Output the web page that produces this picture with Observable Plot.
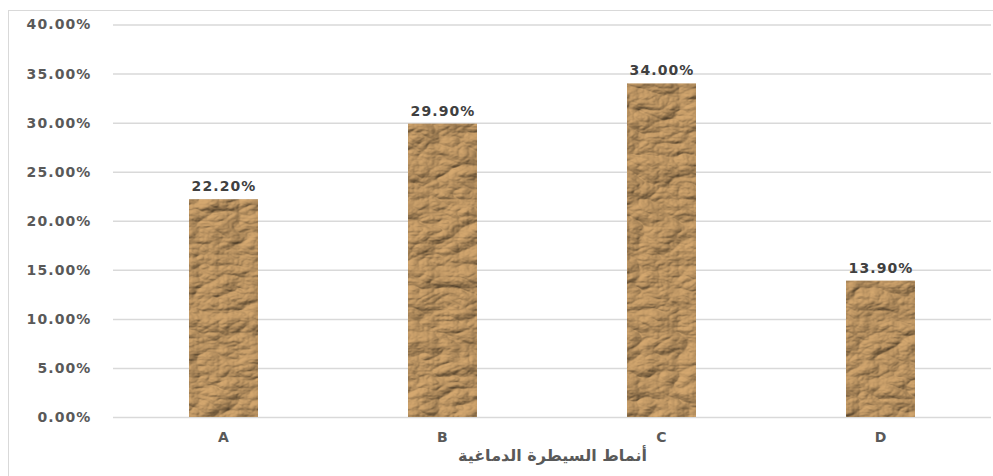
<!DOCTYPE html>
<html>
<head>
<meta charset="utf-8">
<script src="https://cdn.jsdelivr.net/npm/d3@7"></script>
<script src="https://cdn.jsdelivr.net/npm/@observablehq/plot@0.6"></script>
<style>
  html, body { margin: 0; padding: 0; background: #fff; }
  #chart { position: relative; width: 993px; height: 476px; overflow: hidden; }
</style>
</head>
<body>
<div id="chart"></div>
<script>
const categories = ["A", "B", "C", "D"];
const values = [0.222, 0.299, 0.340, 0.139];
const yTicks = [0, 0.05, 0.10, 0.15, 0.20, 0.25, 0.30, 0.35, 0.40];
const axisTitle = "أنماط السيطرة الدماغية";

const data = categories.map((c, i) => ({ cat: c, v: values[i] }));
const fmt = d3.format(".2%");
const font = "DejaVu Sans, Verdana, sans-serif";

const plot = Plot.plot({
  width: 993,
  height: 476,
  marginLeft: 113,
  marginRight: 2,
  marginTop: 24.5,
  marginBottom: 59,
  style: { fontFamily: font, background: "transparent", overflow: "visible" },
  x: { domain: categories, paddingInner: 0.685, paddingOuter: 0.3425, label: null },
  y: { domain: [0, 0.40], label: null },
  marks: [
    Plot.ruleY(yTicks, { stroke: "#d9d9d9", strokeWidth: 1.5 }),
    Plot.barY(data, { x: "cat", y: "v", fill: "#b38d5f" }),
    Plot.text(data, {
      x: "cat", y: "v", text: d => fmt(d.v),
      dy: -13, fill: "#404040", fontSize: 14, fontWeight: "bold"
    }),
    Plot.axisY({
      ticks: yTicks, tickFormat: fmt, tickSize: 0, tickPadding: 22,
      fontSize: 14, fontWeight: "bold", fill: "#595959", label: null
    }),
    Plot.axisX({
      tickSize: 0, tickPadding: 15, fontSize: 14, fontWeight: "bold",
      fill: "#595959", label: null
    }),
    Plot.text([axisTitle], {
      frameAnchor: "bottom", dy: 43, fontSize: 16, fontWeight: "bold",
      fill: "#595959", text: d => d
    })
  ]
});

document.getElementById("chart").appendChild(plot);

const svg = d3.select(plot);
svg.selectAll("text").style("letter-spacing", "1.1px");
svg.selectAll("g[aria-label='text'] text").filter(function(){ return this.textContent === axisTitle; })
  .style("letter-spacing", "0px").attr("direction", "rtl");

// crumpled paper texture filter
const defs = svg.insert("defs", ":first-child");
const f = defs.append("filter").attr("id", "crumple")
  .attr("x", 0).attr("y", 0).attr("width", 1).attr("height", 1)
  .attr("color-interpolation-filters", "sRGB");
f.append("feTurbulence").attr("type", "turbulence")
  .attr("baseFrequency", "0.025 0.045").attr("numOctaves", 4).attr("seed", 11).attr("result", "noise");
const light = f.append("feDiffuseLighting").attr("in", "noise")
  .attr("surfaceScale", 3).attr("lighting-color", "#d6a970").attr("result", "light");
light.append("feDistantLight").attr("azimuth", 225).attr("elevation", 58);
f.append("feComposite").attr("in", "light").attr("in2", "SourceGraphic").attr("operator", "in");

svg.selectAll("g[aria-label='bar'] rect").attr("filter", "url(#crumple)");

// outer chart frame
svg.append("rect")
  .attr("x", 8.5).attr("y", 10.5).attr("width", 990).attr("height", 480)
  .attr("fill", "none").attr("stroke", "#d9d9d9").attr("stroke-width", 1);
</script>
</body>
</html>
